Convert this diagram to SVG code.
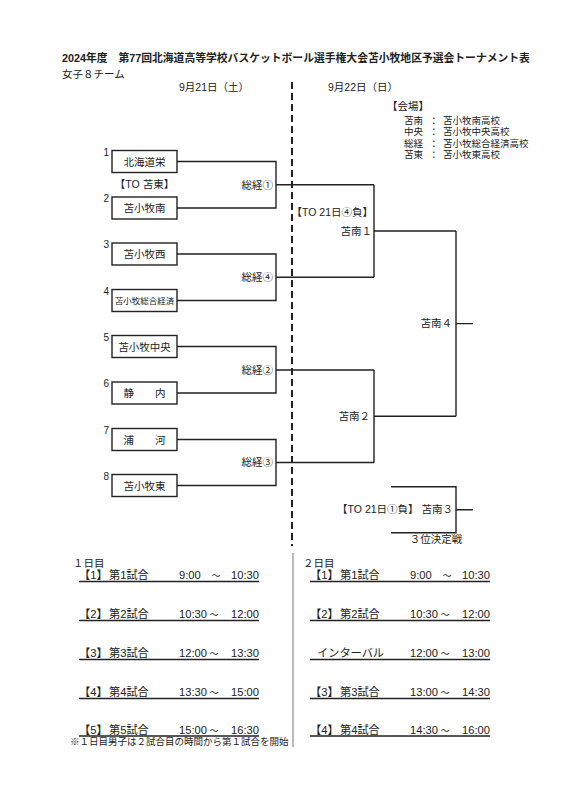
<svg xmlns="http://www.w3.org/2000/svg" width="565" height="800" viewBox="0 0 565 800">
<style>
text{font-family:"Liberation Sans","Noto Sans CJK JP",sans-serif;fill:#222;}
.t{font-size:10.8px;font-weight:bold;}
.h{font-size:10.5px;}
.b{font-size:10.5px;text-anchor:middle;}
.n{font-size:10px;text-anchor:end;}
.l{font-size:10.5px;}
.e{text-anchor:end;}
.v{font-size:9.5px;}
.s{font-size:11.2px;}
.w{font-size:9px;text-anchor:middle;}
rect.box{fill:#fff;stroke:#222;stroke-width:1.4;}
.c path{fill:none;stroke:#222;stroke-width:1.4;}
.u{stroke:#222;stroke-width:1.4;}
</style>
<rect width="565" height="800" fill="#fff"/>
<text class="t" x="62" y="62">2024年度　第77回北海道高等学校バスケットボール選手権大会苫小牧地区予選会トーナメント表</text>
<text class="h" x="62" y="78">女子８チーム</text>
<text class="h" x="179" y="91">9月21日（土）</text>
<text class="h" x="328" y="91">9月22日（日）</text>
<line x1="292" y1="82" x2="292" y2="546" stroke="#222" stroke-width="2" stroke-dasharray="7,4"/>

<g id="venue">
<text class="l" x="387" y="110">【会場】</text>
<text class="v" x="404" y="123.5">苫南</text><text class="v" x="429" y="123.5">：</text><text class="v" x="443" y="123.5">苫小牧南高校</text>
<text class="v" x="404" y="135">中央</text><text class="v" x="429" y="135">：</text><text class="v" x="443" y="135">苫小牧中央高校</text>
<text class="v" x="404" y="146.5">総経</text><text class="v" x="429" y="146.5">：</text><text class="v" x="443" y="146.5">苫小牧総合経済高校</text>
<text class="v" x="404" y="158">苫東</text><text class="v" x="429" y="158">：</text><text class="v" x="443" y="158">苫小牧東高校</text>
</g>

<g id="team1"><text class="n" x="109" y="156">1</text><rect class="box" x="112" y="150.5" width="65" height="22"/><text class="b" x="144.5" y="165.5">北海道栄</text></g>
<g id="team2"><text class="n" x="109" y="202">2</text><rect class="box" x="112" y="197" width="65" height="22"/><text class="b" x="144.5" y="212">苫小牧南</text></g>
<g id="team3"><text class="n" x="109" y="248">3</text><rect class="box" x="112" y="243" width="65" height="22"/><text class="b" x="144.5" y="258">苫小牧西</text></g>
<g id="team4"><text class="n" x="109" y="294.5">4</text><rect class="box" x="112" y="289.5" width="65" height="22"/><text class="b" x="144.5" y="303.5" style="font-size:8.5px">苫小牧総合経済</text></g>
<g id="team5"><text class="n" x="109" y="340.5">5</text><rect class="box" x="112" y="335.5" width="65" height="22"/><text class="b" x="144.5" y="350.5">苫小牧中央</text></g>
<g id="team6"><text class="n" x="109" y="387">6</text><rect class="box" x="112" y="382" width="65" height="22"/><text class="b" x="144.5" y="397">静　　内</text></g>
<g id="team7"><text class="n" x="109" y="433.5">7</text><rect class="box" x="112" y="428.5" width="65" height="22"/><text class="b" x="144.5" y="443.5">浦　　河</text></g>
<g id="team8"><text class="n" x="109" y="479.5">8</text><rect class="box" x="112" y="474.5" width="65" height="22"/><text class="b" x="144.5" y="489.5">苫小牧東</text></g>

<g id="connectors" class="c">
<path d="M177 161.5H276V208H177M276 184.75H374"/>
<path d="M177 254H276V300.5H177M276 277.25H374"/>
<path d="M177 346.5H276V393H177M276 370H374"/>
<path d="M177 439.5H276V485.5H177M276 462.5H374"/>
<path d="M374 184.75V277.25M374 231H456"/>
<path d="M374 370V462.5M374 416.25H456"/>
<path d="M456 231V416.25M456 323.6H473"/>
<path d="M391 486.7H456V532.7H391M456 509.7H473"/>
</g>

<g id="labels">
<text class="l" x="144.5" y="187.5" text-anchor="middle">【TO 苫東】</text>
<text class="l e" x="273" y="188.5">総経①</text>
<text class="l e" x="273" y="281">総経④</text>
<text class="l e" x="273" y="373.7">総経②</text>
<text class="l e" x="273" y="466">総経③</text>
<text class="l e" x="373" y="216">【TO 21日④負】</text>
<text class="l e" x="372" y="234.7">苫南１</text>
<text class="l e" x="370" y="420">苫南２</text>
<text class="l e" x="452" y="327">苫南４</text>
<text class="l e" x="453" y="513">【TO 21日①負】 苫南３</text>
<text class="l" x="436" y="543" text-anchor="middle">３位決定戦</text>
</g>

<g id="schedule">
<line x1="293" y1="553" x2="293" y2="747" stroke="#777" stroke-width="1"/>
<text class="h" x="73" y="567">１日目</text>
<text class="h" x="303" y="567">２日目</text>
<text class="s" x="79" y="579">【1】</text><text class="s" x="109" y="579">第1試合</text><text class="s" x="179" y="579">9:00</text><text class="w" x="216" y="579">～</text><text class="s" x="259" y="579" text-anchor="end">10:30</text>
<text class="s" x="79" y="618">【2】</text><text class="s" x="109" y="618">第2試合</text><text class="s" x="179" y="618">10:30</text><text class="w" x="214" y="618">～</text><text class="s" x="259" y="618" text-anchor="end">12:00</text>
<text class="s" x="79" y="657">【3】</text><text class="s" x="109" y="657">第3試合</text><text class="s" x="179" y="657">12:00</text><text class="w" x="214" y="657">～</text><text class="s" x="259" y="657" text-anchor="end">13:30</text>
<text class="s" x="79" y="696">【4】</text><text class="s" x="109" y="696">第4試合</text><text class="s" x="179" y="696">13:30</text><text class="w" x="214" y="696">～</text><text class="s" x="259" y="696" text-anchor="end">15:00</text>
<text class="s" x="79" y="734">【5】</text><text class="s" x="109" y="734">第5試合</text><text class="s" x="179" y="734">15:00</text><text class="w" x="214" y="734">～</text><text class="s" x="259" y="734" text-anchor="end">16:30</text>

<text class="s" x="310" y="579">【1】</text><text class="s" x="340" y="579">第1試合</text><text class="s" x="410" y="579">9:00</text><text class="w" x="447" y="579">～</text><text class="s" x="490" y="579" text-anchor="end">10:30</text>
<text class="s" x="310" y="618">【2】</text><text class="s" x="340" y="618">第2試合</text><text class="s" x="410" y="618">10:30</text><text class="w" x="445" y="618">～</text><text class="s" x="490" y="618" text-anchor="end">12:00</text>
<text class="s" x="317" y="657">インターバル</text><text class="s" x="410" y="657">12:00</text><text class="w" x="445" y="657">～</text><text class="s" x="490" y="657" text-anchor="end">13:00</text>
<text class="s" x="310" y="696">【3】</text><text class="s" x="340" y="696">第3試合</text><text class="s" x="410" y="696">13:00</text><text class="w" x="445" y="696">～</text><text class="s" x="490" y="696" text-anchor="end">14:30</text>
<text class="s" x="310" y="734">【4】</text><text class="s" x="340" y="734">第4試合</text><text class="s" x="410" y="734">14:30</text><text class="w" x="445" y="734">～</text><text class="s" x="490" y="734" text-anchor="end">16:00</text>
<path class="u" d="M79 581.5H259M79 620.5H259M79 659.5H259M79 698.5H259M79 736H259M310 581.5H490M310 620.5H490M310 659.5H490M310 698.5H490M310 736H490"/>
<text class="v" x="70" y="745">※１日目男子は２試合目の時間から第１試合を開始</text>
</g>
</svg>
